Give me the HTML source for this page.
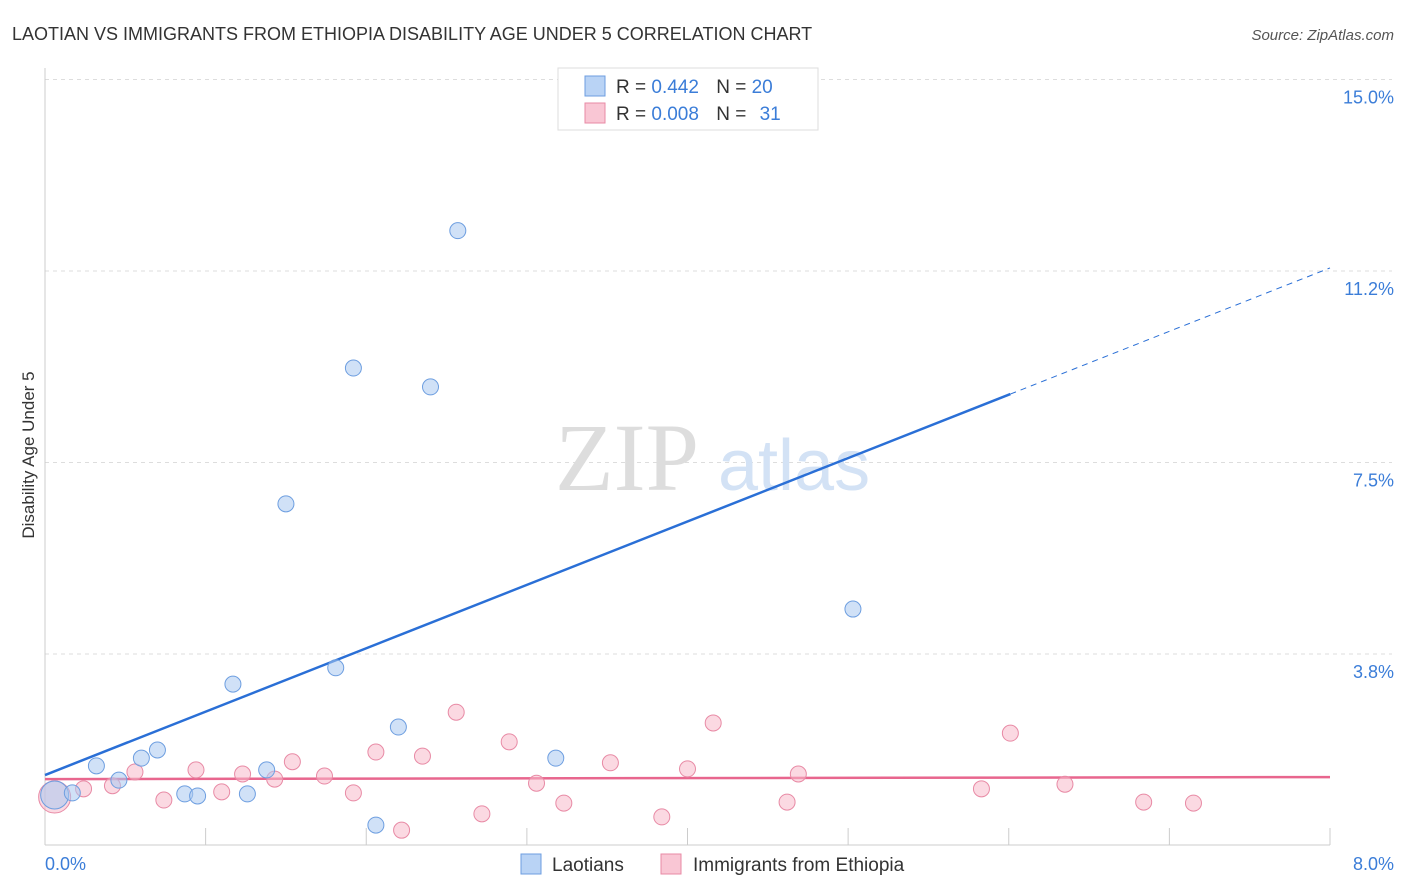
<!DOCTYPE html>
<html><head><meta charset="utf-8"><style>
body{margin:0;background:#fff;font-family:"Liberation Sans",sans-serif;}
svg{display:block}
</style></head><body>
<svg width="1406" height="892" xmlns="http://www.w3.org/2000/svg">
<text x="12" y="40" font-size="18" fill="#333">LAOTIAN VS IMMIGRANTS FROM ETHIOPIA DISABILITY AGE UNDER 5 CORRELATION CHART</text>
<text x="1394" y="40" font-size="15" fill="#555" font-style="italic" text-anchor="end">Source: ZipAtlas.com</text>
<g id="grid"></g>
<text x="555" y="490" font-size="96" fill="#ddd" font-family="Liberation Serif,serif">ZIP</text>
<text x="718" y="490" font-size="72" fill="#d3e2f5">atlas</text>
<line x1="45" y1="68" x2="45" y2="845" stroke="#ccc"/>
<line x1="45" y1="845" x2="1330" y2="845" stroke="#ccc"/>
<text x="34" y="455" font-size="17" fill="#333" text-anchor="middle" transform="rotate(-90 34 455)">Disability Age Under 5</text>
<text x="45" y="870" font-size="18" fill="#3b7dd8">0.0%</text>
<text x="1394" y="870" font-size="18" fill="#3b7dd8" text-anchor="end">8.0%</text>
<g id="lines"></g>
<g id="points"></g>
<g>
<rect x="558" y="68" width="260" height="62" fill="#fff" stroke="#ddd"/>
<rect x="585" y="76" width="20" height="20" fill="#b9d3f5" stroke="#6d9ee0"/>
<rect x="585" y="103" width="20" height="20" fill="#f9c6d4" stroke="#e88aa5"/>
<text x="616" y="93" font-size="19" fill="#333">R = <tspan fill="#3b7dd8">0.442</tspan>  <tspan dx="12">N = </tspan><tspan fill="#3b7dd8">20</tspan></text>
<text x="616" y="120" font-size="19" fill="#333">R = <tspan fill="#3b7dd8">0.008</tspan>  <tspan dx="12">N = </tspan><tspan fill="#3b7dd8" dx="8">31</tspan></text>
</g>
<g>
<rect x="521" y="854" width="20" height="20" fill="#b9d3f5" stroke="#6d9ee0"/>
<text x="552" y="871" font-size="19" fill="#333">Laotians</text>
<rect x="661" y="854" width="20" height="20" fill="#f9c6d4" stroke="#e88aa5"/>
<text x="693" y="871" font-size="19" fill="#333">Immigrants from Ethiopia</text>
</g>
</svg>
<script>
const yTicks=[3.8,7.5,11.2,15.0];
const yTickLabels=["3.8%","7.5%","11.2%","15.0%"];
const xTicks=[1,2,3,4,5,6,7,8];
const blueX=[0.06,0.17,0.32,0.46,0.60,0.70,0.87,0.95,1.17,1.26,1.38,1.50,1.81,1.92,2.06,2.20,2.40,2.57,3.18,5.03];
const blueY=[0.99,1.03,1.56,1.28,1.71,1.87,1.01,0.97,3.16,1.01,1.48,6.69,3.48,9.35,0.40,2.32,8.98,12.04,1.71,4.63];
const pinkX=[0.06,0.24,0.42,0.56,0.74,0.94,1.10,1.23,1.43,1.54,1.74,1.92,2.06,2.22,2.35,2.56,2.72,2.89,3.06,3.23,3.52,3.84,4.00,4.16,4.62,4.69,5.83,6.01,6.35,6.84,7.15];
const pinkY=[0.95,1.11,1.17,1.44,0.89,1.48,1.05,1.40,1.30,1.64,1.36,1.03,1.83,0.30,1.75,2.61,0.62,2.03,1.22,0.83,1.62,0.56,1.50,2.40,0.85,1.40,1.11,2.20,1.20,0.85,0.83];
const blueTrend=[1.38,11.31];
const pinkTrend=[1.30,1.34];
const blueSolidEnd=6.01;
const NS="http://www.w3.org/2000/svg";
const xs=v=>45+v/8*1285;
const ys=v=>845.5-v/3.75*191.5;
function mk(tag,attrs,parent){const e=document.createElementNS(NS,tag);for(const k in attrs)e.setAttribute(k,attrs[k]);parent.appendChild(e);return e;}
const grid=document.getElementById('grid');
yTicks.forEach((t,i)=>{
 const y=ys(t===15.0?15.0:t*1.0)+ (t===3.8?-1.5*0:0);
 const yy=ys([3.75,7.5,11.25,15][i]);
 const l=mk('line',{x1:45,x2:1392,y1:yy,y2:yy,stroke:'#ddd','stroke-dasharray':'4,4'},grid);
 
 
 const tx=mk('text',{x:1394,y:yy+24,'font-size':18,fill:'#3b7dd8','text-anchor':'end'},grid);
 tx.textContent=yTickLabels[i];
 
 
});
xTicks.forEach(t=>{
 const l=mk('line',{x1:xs(t),x2:xs(t),y1:828,y2:845,stroke:'#ccc'},grid);
 
 
});
const lines=document.getElementById('lines');
const bs=v=>blueTrend[0]+(blueTrend[1]-blueTrend[0])*v/8;
let l1=mk('line',{x1:xs(0),y1:ys(bs(0)),x2:xs(blueSolidEnd),y2:ys(bs(blueSolidEnd)),stroke:'#2a6fd6','stroke-width':2.5},lines);


let l2=mk('line',{x1:xs(blueSolidEnd),y1:ys(bs(blueSolidEnd)),x2:xs(8),y2:ys(bs(8)),stroke:'#2a6fd6','stroke-width':1,'stroke-dasharray':'6,5'},lines);


let l3=mk('line',{x1:xs(0),y1:ys(pinkTrend[0]),x2:xs(8),y2:ys(pinkTrend[1]),stroke:'#e8668e','stroke-width':2.5},lines);


const pts=document.getElementById('points');
pinkX.forEach((x,i)=>{
 const c=mk('circle',{cx:xs(x),cy:ys(pinkY[i]),r:i===0?16:8,fill:'#f7b9ca','fill-opacity':0.55,stroke:'#e88aa5','stroke-width':1},pts);
 
 
});
blueX.forEach((x,i)=>{
 const c=mk('circle',{cx:xs(x),cy:ys(blueY[i]),r:i===0?14:8,fill:'#a9c8f0','fill-opacity':0.55,stroke:'#6d9ee0','stroke-width':1},pts);
 
 
});
</script>
</body></html>
